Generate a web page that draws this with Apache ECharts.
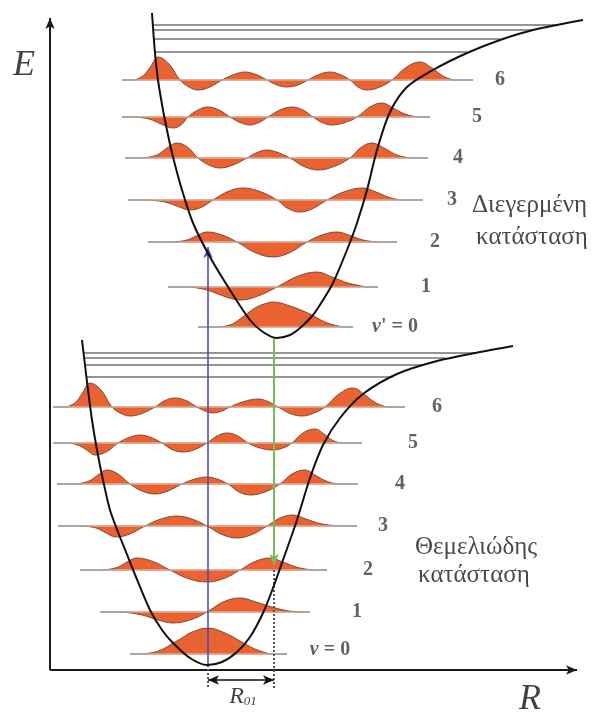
<!DOCTYPE html>
<html>
<head>
<meta charset="utf-8">
<script src="https://cdn.jsdelivr.net/npm/echarts@6/dist/echarts.min.js"></script>
<style>
html,body{margin:0;padding:0;background:#fff}
#c{width:592px;height:716px}
</style>
</head>
<body>
<div id="c"></div>
<script>
// Potential energy curves, points [R, E]
const groundCurve = [[32,330],[35,305],[38,280],[42,250],[47,220],[53,190],[60,160],[68,138],[76,118],[86,93],[100,60],[112,40],[123,27],[140,12],[157,5],[172,8],[187,18],[200,33],[213,57],[223,82],[233,110],[247,150],[260,192],[273,225],[290,252],[313,276],[347,296],[387,309],[430,318],[463,324]];
const excitedCurve = [[102,657],[105,617],[108,590],[113,560],[117,540],[122,517],[132,480],[143,447],[160,413],[180,380],[200,350],[213,338],[227,332],[240,335],[250,342],[263,355],[273,370],[283,387],[297,420],[307,447],[317,480],[327,520],[340,558],[357,583],[383,600],[417,617],[450,630],[483,640],[533,650]];

// Vibrational level energies
const groundLevels = [16,58,100,144,186,227,263];
const excitedLevels = [343,383,428,470,512,553,590];

// Extent of each level's line [R start, R end]
const groundSpans = [[80,237],[50,260],[30,277],[8,307],[7,308],[3,312],[3,355]];
const excitedSpans = [[148,303],[118,328],[98,347],[78,373],[75,378],[72,380],[72,423]];

// Wavefunctions, points [R, amplitude] relative to the level
const groundPsi = [
  [[93,0],[105,2],[115,6],[123,11],[132,16],[140,21],[158,26],[175,21],[190,13],[205,5],[220,0]],
  [[73,0],[92,-3],[108,-8],[123,-11],[140,-8],[157,0],[173,10],[190,14],[206,10],[222,5],[236,1.5],[250,0]],
  [[53,0],[67,2.5],[77,8],[87,12],[103,8.5],[120,0],[138,-8.5],[157,-12],[174,-8.5],[190,0],[205,8.5],[220,12],[233,8],[248,2.5],[263,0]],
  [[33,0],[46,-2],[56,-7],[66,-11],[80,-8],[95,0],[111,7],[127,10],[142,7],[157,0],[172,-8.5],[187,-12],[202,-8.5],[217,0],[230,8],[243,11],[256,7],[270,2.5],[287,0]],
  [[27,0],[39,3],[48,9],[57,14],[68,10],[80,0],[92,-7],[105,-10],[118,-7],[132,0],[145,5],[157,7],[167,5],[178,0],[189,-8],[200,-11],[215,-8],[230,0],[242,10],[255,14],[265,9],[276,3],[287,0]],
  [[20,0],[30,-3],[38,-8],[45,-12],[57,-8.5],[68,0],[79,5.5],[90,8],[101,5.5],[112,0],[122,-6.5],[133,-9],[145,-6.5],[157,0],[167,7],[177,10],[188,7],[198,0],[210,-5],[223,-7],[233,-5],[242,0],[253,10],[265,14],[274,9],[282,3],[290,0]],
  [[17,0],[26,5],[33,15],[40,24],[51,17],[62,0],[71,-6.5],[80,-9],[92,-6.5],[105,0],[115,6.5],[125,9],[136,6.5],[147,0],[155,-4],[163,-6],[172,-4],[180,0],[194,5.5],[208,8],[218,5.5],[228,0],[240,-6.5],[252,-9],[263,-6.5],[275,0],[289,13],[303,19],[315,12],[326,4],[337,0]]
];
const excitedPsi = [
  [[167,0],[180,2],[190,8],[205,19],[214,23],[223,25],[240,21],[260,13],[275,5],[292,0]],
  [[140,0],[155,-2.5],[168,-7],[179,-11],[190,-13],[208,-9],[227,0],[247,10.5],[267,15],[282,10],[298,4],[317,0]],
  [[123,0],[137,2],[147,6.5],[157,10],[172,7],[187,0],[205,-10.5],[223,-15],[240,-10.5],[257,0],[272,7],[287,10],[300,6.5],[313,2],[327,0]],
  [[98,0],[115,-2],[128,-6.5],[140,-10],[152,-7],[163,0],[178,8.5],[193,12],[210,8.5],[227,0],[238,-8.5],[250,-12],[263,-8.5],[277,0],[295,8.5],[313,12],[326,8],[338,3],[350,0]],
  [[93,0],[107,3],[117,10],[127,15],[138,10.5],[148,0],[159,-7],[170,-10],[183,-7],[197,0],[207,5.5],[217,8],[228,5.5],[240,0],[254,-8.5],[268,-12],[284,-8.5],[300,0],[311,10.5],[322,15],[334,10],[347,3],[360,0]],
  [[83,0],[99,-2],[111,-7],[123,-11],[131,-8],[138,0],[148,7],[158,10],[169,7],[180,0],[190,-5.5],[200,-8],[209,-5.5],[218,0],[230,7],[242,10],[253,7],[263,0],[272,-5.5],[282,-8],[295,-5.5],[307,0],[320,10],[332,14],[343,9],[355,3],[367,0]],
  [[85,0],[94,5],[101,14],[108,23],[119,16],[130,0],[139,-7],[148,-10],[160,-7],[172,0],[184,5.5],[195,8],[206,5.5],[217,0],[227,-5],[237,-7],[248,-5],[258,0],[269,5.5],[280,8],[290,5.5],[300,0],[308,-7],[317,-10],[330,-7],[342,0],[356,12.5],[370,18],[382,12],[393,4],[403,0]]
];

// Near-dissociation levels: energy and [R start, R end]
const groundLimitE = [317,312,305,293];
const groundLimitSpans = [[34,425],[35,395],[35,372],[36,343]];
const excitedLimitE = [645,640,631,618];
const excitedLimitSpans = [[103,508],[103,483],[104,450],[105,417]];

// Level tags and where they sit (R)
const groundTags = ['ν = 0','1','2','3','4','5','6'];
const groundTagR = [280,307,318,333,350,363,387];
const excitedTags = ["ν' = 0",'1','2','3','4','5','6'];
const excitedTagR = [345,376,385,402,408,427,450];

// Transitions (R position, E from, E to)
const absorption = {R:158, from:5, to:423};
const emission = {R:224, from:332, to:105};
const displacement = {R0:158, R1:224, E:-10, dropFrom0:5, dropFrom1:100, dropTo:-18};

// Axes extent
const axisRMax = 527;
const axisEMax = 652;

const ORANGE = '#E9622F';
const serif = '"Liberation Serif", "DejaVu Serif", serif';
const series = [];

function addLevel(E, span, psi){
  series.push({type:'line', data:[[span[0],E],[span[1],E]], symbol:'none',
    lineStyle:{color:'#8c8c8c', width:1.3}, z:2, silent:true, animation:false});
  series.push({type:'line', data:psi.map(p=>[p[0], E+p[1]]), smooth:0.4,
    symbol:'none', lineStyle:{color:'#6d4534', width:0.9},
    areaStyle:{color:ORANGE, opacity:1, origin:E}, z:3, silent:true, animation:false});
  series.push({type:'line', data:[[psi[0][0],E],[psi[psi.length-1][0],E]], symbol:'none',
    lineStyle:{color:'#f3c2aa', width:1}, z:4, silent:true, animation:false});
}
groundLevels.forEach((E,i)=>addLevel(E, groundSpans[i], groundPsi[i]));
excitedLevels.forEach((E,i)=>addLevel(E, excitedSpans[i], excitedPsi[i]));

function addLimits(Es, spans){
  Es.forEach((E,i)=>series.push({type:'line', data:[[spans[i][0],E],[spans[i][1],E]], symbol:'none',
    lineStyle:{color:'#727272', width:1.5}, z:2, silent:true, animation:false}));
}
addLimits(groundLimitE, groundLimitSpans);
addLimits(excitedLimitE, excitedLimitSpans);

// Potential curves
[groundCurve, excitedCurve].forEach(c=>series.push({type:'line', data:c, smooth:0.3, symbol:'none',
  lineStyle:{color:'#111', width:2}, z:6, silent:true, animation:false}));

// Arrows and guide lines
function arrowSeries(pairs, color, width, symbols, dashed){
  series.push({type:'line', data:[], silent:true, animation:false, z:7,
    markLine:{silent:true, animation:false, symbol:symbols, symbolSize:[7,11],
      label:{show:false}, lineStyle:{color:color, width:width, type:dashed?[2,2]:'solid'},
      emphasis:{disabled:true},
      data:pairs.map(p=>[{coord:p[0]},{coord:p[1]}])}});
}
arrowSeries([[[0,0],[axisRMax,0]],[[0,0],[0,axisEMax]]], '#1a1a1a', 2, ['none','arrow']);
arrowSeries([[[absorption.R,absorption.from],[absorption.R,absorption.to]]], '#4f4fb5', 1.6, ['none','arrow']);
arrowSeries([[[emission.R,emission.from],[emission.R,emission.to]]], '#72c05a', 2, ['none','arrow']);
arrowSeries([[[displacement.R0,displacement.dropFrom0],[displacement.R0,displacement.dropTo]],
             [[displacement.R1,displacement.dropFrom1],[displacement.R1,displacement.dropTo]]], '#555', 2, ['none','none'], true);
arrowSeries([[[displacement.R0,displacement.E],[displacement.R1,displacement.E]]], '#111', 1.6, ['arrow','arrow']);

// Level tags
function tagSeries(tags, Rs, Es){
  series.push({type:'scatter', symbolSize:0, silent:true, animation:false, z:8,
    data:tags.map((t,i)=>[Rs[i], Es[i], t]),
    label:{show:true, position:'inside', fontFamily:serif, fontSize:20, color:'#3a3a3a', fontWeight:'bold',
      formatter:p=>{const t=p.data[2]; return t.indexOf('ν')===0 ? '{i|ν}{n|'+t.slice(1)+'}' : t;},
      rich:{i:{fontFamily:serif, fontStyle:'italic', fontSize:20, color:'#3a3a3a'},
            n:{fontFamily:serif, fontSize:20, fontWeight:'bold', color:'#3a3a3a'}}}});
}
tagSeries(groundTags, groundTagR, groundLevels.map((E,i)=>i===0?E+4:E));
tagSeries(excitedTags, excitedTagR, excitedLevels);

// State names and axis symbols
const captions = [
  [422,465,'Διεγερμένη'],[426,433,'κατάσταση'],
  [365,123,'Θεμελιώδης'],[368,95,'κατάσταση']
];
series.push({type:'scatter', symbolSize:0, silent:true, animation:false, z:8, data:captions,
  label:{show:true, position:'right', distance:0, fontFamily:serif, fontSize:25, color:'#1a1a1a',
    formatter:p=>p.data[2]}});
const symbols = [[-26,604,'{i|E}'],[480,-30,'{i|R}'],[193,-27,'{r|R}{s|01}']];
series.push({type:'scatter', symbolSize:0, silent:true, animation:false, z:8, data:symbols,
  label:{show:true, position:'inside', formatter:p=>p.data[2],
    rich:{i:{fontFamily:serif, fontStyle:'italic', fontSize:36, color:'#111'},
          r:{fontFamily:serif, fontStyle:'italic', fontSize:24, color:'#111'},
          s:{fontFamily:serif, fontStyle:'italic', fontSize:13, color:'#111', padding:[10,0,0,0]}}}});

const chart = echarts.init(document.getElementById('c'));
chart.setOption({
  animation:false,
  backgroundColor:'#fff',
  grid:{left:0, right:0, top:0, bottom:0},
  xAxis:{type:'value', min:-50, max:542, show:false},
  yAxis:{type:'value', min:-46, max:670, show:false},
  series:series
});
</script>
</body>
</html>
